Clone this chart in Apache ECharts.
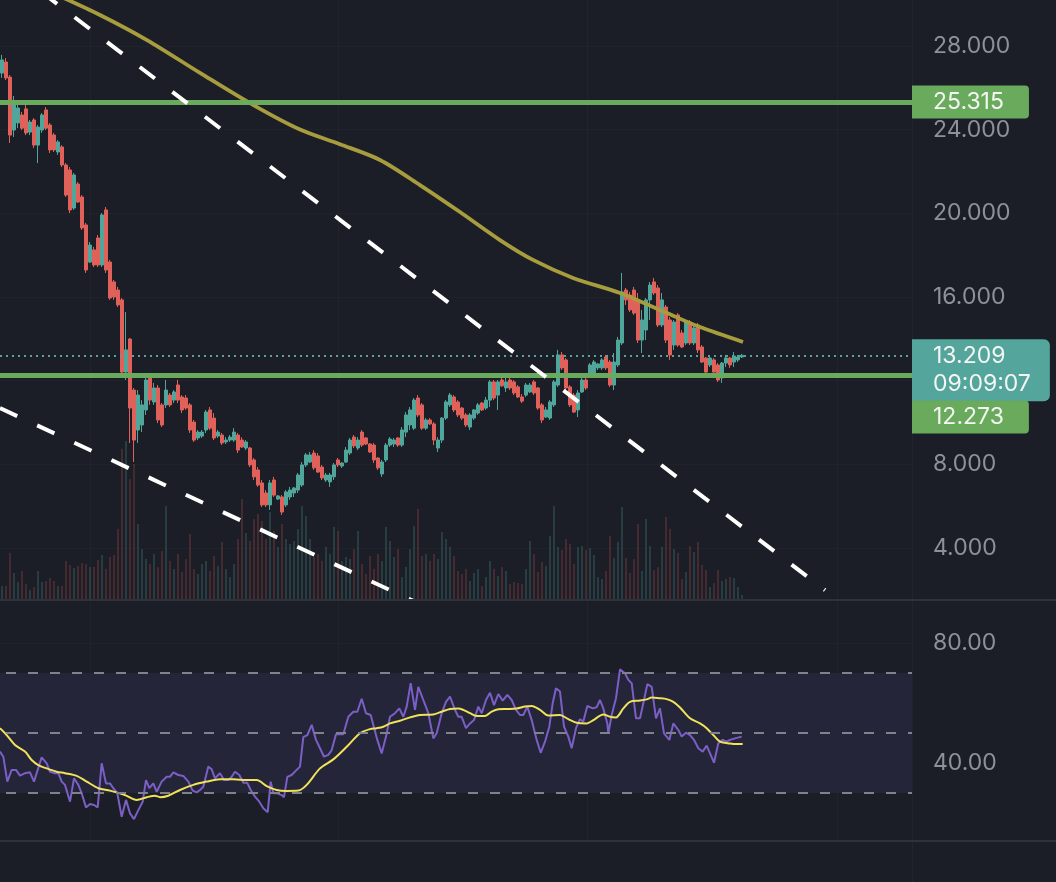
<!DOCTYPE html>
<html><head><meta charset="utf-8">
<script src="https://cdn.jsdelivr.net/npm/echarts@6/dist/echarts.min.js"></script>
<style>html,body{margin:0;padding:0;background:#1b1e26;overflow:hidden}#c{width:1056px;height:882px}</style>
</head><body><div id="c"></div>
<script>
// ---- data ----
const ohlc = [
[26.70,27.33,26.47,27.57],[27.23,26.47,26.37,27.42],[26.51,23.74,23.36,26.61],[23.98,25.18,23.65,25.61],[24.32,25.03,24.07,25.18],
[24.70,24.07,23.98,24.84],[24.99,23.84,23.74,25.18],[23.88,24.36,23.74,24.46],[24.46,23.26,23.12,24.55],[23.26,24.12,22.40,24.22],
[23.98,24.70,23.84,24.79],[24.94,24.07,23.98,25.08],[24.22,23.03,22.88,24.32],[23.74,23.03,22.93,23.84],[22.93,23.41,22.79,23.50],
[23.17,22.31,22.21,23.26],[22.31,20.87,20.78,22.40],[22.07,20.16,20.01,22.21],[20.25,21.83,20.16,21.93],[21.40,20.54,20.49,21.50],
[20.78,19.30,19.20,20.87],[19.44,17.29,17.15,19.54],[17.67,18.48,17.62,18.63],[18.25,17.53,17.43,18.39],[18.82,17.53,17.43,18.96],
[17.53,19.92,17.43,20.01],[20.16,17.29,17.15,20.30],[17.67,15.95,15.86,17.77],[16.72,16.00,15.86,16.81],[16.33,15.62,15.52,16.48],
[15.86,12.41,12.27,15.95],[12.41,13.47,12.03,15.28],[13.99,10.69,9.02,14.04],[11.55,9.16,8.11,11.65],[9.64,11.31,9.02,11.55],
[9.88,10.84,9.54,11.07],[10.60,12.03,10.36,12.37],[12.13,11.07,10.84,12.37],[10.98,11.65,10.84,11.89],[11.65,10.12,9.97,11.79],
[10.84,9.88,9.78,10.93],[10.84,11.55,10.69,12.03],[11.31,10.84,10.74,11.41],[11.07,11.46,10.93,11.55],[11.79,11.07,10.93,12.03],
[11.22,10.60,10.45,11.31],[11.17,10.69,10.60,11.31],[10.84,9.64,9.50,10.93],[10.02,9.16,9.07,10.12],[9.26,9.54,9.16,9.64],
[9.35,9.54,9.26,9.64],[9.64,10.50,9.50,10.60],[10.60,9.73,9.64,10.74],[10.21,9.26,9.16,10.45],[9.35,9.54,9.26,9.64],
[9.40,9.02,8.92,9.50],[9.07,9.16,8.97,9.30],[9.16,9.30,9.07,9.40],[9.16,9.54,9.07,9.73],[9.40,8.68,8.54,9.50],
[9.16,8.83,8.78,9.30],[8.78,9.07,8.68,9.16],[8.78,7.97,7.87,8.83],[8.21,7.40,7.25,8.30],[7.73,7.01,6.92,7.87],
[7.11,6.06,5.96,7.25],[6.63,6.06,5.96,6.77],[6.06,7.11,5.82,7.25],[7.25,6.53,6.44,7.40],[6.34,6.49,6.30,6.53],
[6.44,5.72,5.58,6.53],[6.06,6.68,5.96,6.77],[6.44,6.77,6.30,6.92],[6.63,6.87,6.44,6.92],[6.77,7.49,6.63,7.59],
[7.01,7.97,6.92,8.11],[7.97,8.45,7.87,8.54],[8.11,8.45,8.06,8.59],[8.54,7.83,7.73,8.68],[8.40,7.63,7.59,8.54],
[7.87,7.35,7.25,7.97],[7.25,7.49,7.16,7.59],[7.16,7.49,6.92,7.59],[7.40,7.97,7.25,8.06],[8.21,7.97,7.87,8.30],
[7.92,8.06,7.83,8.11],[8.11,8.68,8.06,8.83],[8.54,9.16,8.45,9.26],[9.30,8.88,8.78,9.40],[8.78,9.16,8.68,9.30],
[9.54,8.92,8.83,9.64],[9.26,8.97,8.92,9.30],[8.97,8.59,8.54,9.02],[8.92,8.21,8.06,9.02],[8.30,7.83,7.73,8.35],
[7.54,8.11,7.40,8.21],[8.21,8.92,8.11,9.02],[8.92,9.21,8.83,9.30],[8.97,9.16,8.83,9.26],[9.26,8.92,8.83,9.30],
[8.92,9.64,8.83,9.78],[9.54,10.36,9.30,10.50],[9.88,10.60,9.64,10.74],[9.73,11.07,9.64,11.17],[11.17,10.36,10.26,11.31],
[10.84,9.73,9.64,10.93],[9.73,10.12,9.64,10.21],[10.12,9.93,9.88,10.21],[9.93,9.16,8.92,10.02],[8.78,9.16,8.59,9.30],
[9.16,10.21,9.02,10.26],[10.21,10.98,10.12,11.07],[10.84,11.31,10.74,11.41],[11.22,10.60,10.50,11.31],[10.98,10.36,10.26,11.07],
[10.69,10.21,10.12,10.74],[10.36,9.88,9.78,10.45],[9.78,10.36,9.64,10.45],[10.21,10.60,10.12,10.64],[10.45,10.84,10.36,10.93],
[10.93,10.60,10.55,10.98],[10.69,11.07,10.60,11.22],[11.07,11.94,10.74,12.03],[11.94,11.17,11.07,12.03],[11.31,11.94,10.60,12.03],
[12.03,11.75,11.70,12.13],[11.65,11.94,11.46,12.13],[12.03,11.65,11.55,12.13],[11.94,11.41,11.31,12.03],[11.70,11.22,11.17,11.79],
[11.22,11.02,10.93,11.36],[11.31,11.79,11.22,11.89],[11.46,11.79,11.41,11.89],[11.94,11.41,11.31,12.03],[11.65,10.69,10.60,11.70],
[10.84,10.12,9.97,10.93],[10.26,10.60,10.21,10.74],[10.21,10.98,10.12,11.07],[10.84,11.94,10.74,12.03],[11.79,13.23,11.70,13.47],
[13.23,12.61,12.51,13.37],[12.99,11.65,11.55,13.08],[11.70,10.84,10.74,11.79],[11.31,10.50,10.45,11.41],[10.60,11.41,10.26,11.55],
[11.46,12.03,11.41,12.13],[12.03,11.65,11.55,12.13],[12.27,12.75,12.18,12.84],[12.37,12.89,12.27,12.99],[12.61,12.80,12.51,12.84],
[12.61,12.99,12.51,13.08],[13.13,12.61,12.51,13.23],[12.89,11.79,11.70,12.99],[11.79,12.89,11.55,13.32],[12.75,13.94,12.65,14.09],
[13.80,16.24,13.70,17.15],[16.33,15.86,15.62,16.43],[16.09,15.38,15.28,16.24],[16.33,15.23,15.14,16.48],[15.86,13.94,13.80,16.19],
[13.94,14.90,13.32,15.38],[14.42,15.86,13.94,15.95],[15.86,16.57,14.90,16.72],[16.72,16.19,16.09,16.91],[16.43,14.66,14.56,16.57],
[14.66,15.86,14.56,16.19],[15.52,13.94,13.80,15.62],[14.90,13.23,12.99,15.04],[13.70,14.80,13.47,14.90],[15.14,13.70,13.61,15.23],
[14.28,13.61,13.56,14.42],[13.80,14.80,13.70,14.90],[14.80,13.80,13.70,14.90],[13.80,14.52,13.70,14.66],[14.66,13.47,13.32,14.76],
[13.61,12.89,12.84,13.70],[13.08,12.41,12.37,13.13],[12.75,13.08,12.65,13.13],[12.99,12.41,12.37,13.08],[12.75,12.03,11.94,12.84],
[12.13,12.84,11.89,12.89],[12.84,13.08,12.65,13.23],[13.08,12.75,12.61,13.13],[12.89,13.18,12.65,13.37],[12.99,13.13,12.89,13.23],
[13.13,13.21,13.08,13.28]
];
const volume = [
13,13,46,26,17,28,15,9,12,28,17,18,21,18,13,13,38,34,31,33,36,35,32,32,39,44,30,42,44,70,150,158,120,135,75,50,
40,35,45,32,48,93,38,30,45,27,40,65,30,25,35,38,28,43,33,57,30,22,35,60,100,66,58,80,85,78,
60,87,68,52,75,60,55,58,70,93,83,60,42,45,38,52,45,72,68,38,42,40,50,68,35,25,43,30,45,38,
72,58,42,50,22,32,50,73,90,43,45,38,45,40,67,60,52,43,28,25,30,18,26,30,13,22,38,30,23,32,
28,15,17,16,15,30,58,45,27,37,33,63,93,52,
49,60,55,35,52,53,49,51,44,22,20,28,63,41,57,92,41,26,40,75,28,80,53,29,32,52,82,70,50,46,
20,27,53,47,57,34,29,12,16,29,18,20,22,21,12,4
];
// moving average of price: [bar position, price]
const maPts = [[13.25,30.48],[24.5,29.48],[36.25,28.28],[49.5,26.71],[62.75,25.18],[74.5,24.0],[84.5,23.3],[94.5,22.55],[104.5,21.35],[114.5,20.06],[124.5,18.72],[132.75,17.77],[142.75,16.91],[154.5,16.19],[166.25,15.23],[174.5,14.56],[185.25,13.85]];
// dashed trend lines: [bar position, price]
const trendUpper = [[10.0,30.56],[205.75,1.99]];
const trendLower = [[-0.5,10.69],[104.5,1.32]];
// RSI and its average: [bar position, value]
const rsiPts = [[-0.5,43.8],[0.33,42.1],[1.33,33.8],[2.42,37.7],[3.5,37.7],[4.5,35.8],[5.75,36.6],[7,36.9],[8,33.8],[9.92,41.9],[11.17,39.9],[12,37.1],[13.25,36.6],[14.08,36.6],[14.92,33.8],[15.75,32.7],[17,27.1],[18,34.9],[19.08,32.7],[19.92,29.9],[21,25.2],[22,26.3],[23,26.0],[23.92,25.2],[24.92,39.9],[26,33.2],[27,33.2],[27.83,31.6],[28.83,29.9],[29.92,22.1],[31,27.7],[32,23.2],[33,21.3],[34.08,24.3],[35.17,27.1],[36,34.3],[36.83,31.6],[37.83,33.2],[38.67,30.4],[39.92,33.8],[41.17,35.4],[42,35.4],[42.83,36.9],[44.08,36.0],[45.33,35.7],[46.58,33.8],[47.67,30.8],[48.67,30.2],[49.5,31.0],[50.33,32.1],[51.58,38.8],[52.42,37.9],[53.25,34.9],[54.5,36.6],[55.5,34.3],[56.58,34.3],[57.42,35.4],[58.25,37.1],[59.33,36.0],[60.33,33.4],[61.33,33.4],[62.17,31.0],[63.25,28.8],[64.33,27.1],[65.33,24.9],[66.42,23.6],[67.17,33.8],[67.83,29.9],[68.83,29.9],[69.92,29.3],[70.5,28.6],[71.33,35.4],[72.42,36.0],[73.67,37.7],[74.5,38.8],[75.33,48.6],[76.33,49.3],[77.42,52.7],[78.5,47.7],[79.5,44.9],[80.5,42.1],[81.58,42.7],[82.42,44.3],[83.5,49.6],[84.5,49.6],[85.33,49.6],[86.58,55.4],[87.83,57.1],[88.83,57.1],[89.92,61.4],[91,56.6],[92.17,56.0],[93.83,47.7],[94.92,43.2],[96,48.8],[97,55.4],[98.25,56.6],[99.33,58.2],[100.33,55.4],[101.17,58.8],[102.17,66.6],[103.25,57.7],[104.08,65.4],[105.33,61.0],[106.58,56.6],[107.83,48.2],[108.67,49.9],[109.92,56.6],[111,60.4],[112,62.1],[113.25,57.7],[114.08,55.4],[114.92,55.4],[116,51.6],[117,53.2],[118,54.3],[119.08,58.8],[119.92,56.6],[121,61.0],[122,63.4],[123,59.3],[124.08,63.0],[125.17,60.8],[126.33,62.7],[127.42,61.0],[128.5,57.7],[129.5,56.0],[130.33,56.0],[131.33,58.8],[132.42,54.3],[133.67,47.7],[134.67,43.4],[135.75,47.1],[136.83,52.1],[137.67,59.9],[138.5,64.9],[139.5,63.8],[140.5,52.1],[141.58,48.8],[142.42,44.9],[143.5,51.6],[144.5,54.6],[145.33,53.8],[146.33,59.0],[147.67,58.2],[148.67,58.6],[149.5,61.0],[150.33,58.2],[151.33,53.2],[151.58,49.9],[152.42,56.0],[153.5,61.6],[154.5,71.2],[155.75,69.9],[156.58,67.7],[157.42,66.6],[158.5,54.9],[159.5,54.9],[160.5,61.0],[161.33,66.3],[162.42,65.4],[163.5,54.9],[164.5,58.2],[165.5,49.9],[166.83,47.7],[167.83,53.2],[169.08,51.0],[169.92,48.8],[171,50.1],[172,49.3],[173,47.7],[174.08,44.9],[175.17,43.8],[176.17,45.8],[177,43.2],[178,40.1],[179.08,46.6],[180.17,47.7],[181.17,47.1],[182,47.7],[183.25,48.2],[184.92,48.8]];
const rsiMaPts = [[-0.5,51.6],[1.17,49.3],[3.25,46.0],[5.75,43.8],[7.42,41.0],[9.08,39.3],[11.17,38.2],[13.67,37.1],[15.75,36.6],[18.67,35.7],[21.17,33.8],[24.08,31.6],[27,30.8],[30.75,29.3],[33.67,27.7],[36.17,28.6],[38.25,29.1],[39.5,28.6],[41.58,29.1],[44.5,31.0],[47.83,32.7],[51.17,33.8],[54.5,34.6],[57.83,34.6],[61.17,34.3],[63.67,34.3],[66.17,32.3],[68.67,31.0],[71.17,30.7],[74.08,30.8],[76.17,32.7],[79.5,38.2],[82.83,41.2],[86.17,45.4],[89.5,49.9],[92,51.3],[93.67,51.6],[95.33,52.1],[97,53.2],[99.5,54.1],[102,55.2],[104.5,56.0],[107.83,56.2],[109.92,57.1],[112,58.0],[114.08,58.2],[115.33,57.7],[117,56.6],[118.67,55.7],[120.75,55.7],[122.42,57.1],[124.08,57.9],[126.17,58.0],[128.67,58.2],[130.75,58.8],[132.42,59.0],[134.5,57.7],[136.58,55.8],[139.5,56.0],[141.58,54.6],[143.67,53.4],[146.17,53.2],[147.83,54.3],[150.33,56.2],[152,55.4],[153.5,55.2],[155.33,58.2],[157,60.4],[159.5,60.8],[161.17,61.2],[162.42,61.8],[164.5,61.6],[166.17,61.3],[167.83,60.4],[169.5,58.5],[172,54.9],[174.5,53.2],[176.17,51.6],[177.83,49.3],[179.5,47.1],[182,46.5],[183.67,46.3],[185.17,46.3]];
const priceTicks = [4, 8, 12, 16, 20, 24, 28];
const rsiTicks = [40, 80];
const rsiLevels = [70, 50, 30];
const resistance = 25.315;
const support = 12.273;
const lastPrice = 13.209;
const countdown = '09:09:07';
const slotCount = 228;
const timeGridLines = [22, 84, 146.25, 208.75];

// ---- chart ----
const UP = '#50a69b', DOWN = '#e0615a';
const FONT = 'Inter, Roboto, sans-serif';
const FS = 23;
const cats = Array.from({length: slotCount}, (_, i) => String(i));
const PW = 912;
const splitX = {show: true, lineStyle: {color: '#21242c', width: 1}};
function valueX(gridIndex) {
  return {type: 'value', gridIndex, min: -0.5, max: slotCount - 0.5,
    axisLine: {show: false}, axisTick: {show: false, customValues: timeGridLines},
    axisLabel: {show: false}, splitLine: splitX};
}
const chart = echarts.init(document.getElementById('c'));
chart.setOption({
  backgroundColor: '#1b1e26',
  animation: false,
  grid: [
    {left: 0, top: 0, width: PW, height: 599},
    {left: 0, top: 439, width: PW, height: 160},
    {left: 0, top: 601, width: PW, height: 240}
  ],
  xAxis: [
    {type: 'category', gridIndex: 0, data: cats, show: false},
    valueX(0),
    {type: 'category', gridIndex: 1, data: cats, show: false},
    valueX(2)
  ],
  yAxis: [
    {type: 'value', gridIndex: 0, position: 'right', min: 1.562, max: 30.195,
      axisLine: {show: false}, axisTick: {show: false, customValues: priceTicks},
      axisLabel: {customValues: priceTicks, formatter: v => v.toFixed(3), color: '#8d919a', fontSize: FS, fontFamily: FONT, margin: 21},
      splitLine: {show: true, lineStyle: {color: '#1f222a', width: 1}}},
    {type: 'value', gridIndex: 1, min: 0, max: 160, show: false},
    {type: 'value', gridIndex: 2, position: 'right', min: 14, max: 94,
      axisLine: {show: false}, axisTick: {show: false, customValues: rsiTicks},
      axisLabel: {customValues: rsiTicks, formatter: v => v.toFixed(2), color: '#8d919a', fontSize: FS, fontFamily: FONT, margin: 21},
      splitLine: {show: true, lineStyle: {color: '#1f222a', width: 1}}}
  ],
  graphic: [
    {type: 'line', shape: {x1: 0, y1: 600, x2: 1056, y2: 600}, style: {stroke: '#2f323a', lineWidth: 2}, z: 10},
    {type: 'line', shape: {x1: 0, y1: 841, x2: 1056, y2: 841}, style: {stroke: '#2f323a', lineWidth: 2}, z: 10},
    {type: 'line', shape: {x1: 912.5, y1: 0, x2: 912.5, y2: 882}, style: {stroke: '#22252d', lineWidth: 1}, z: 0}
  ],
  series: [
    {type: 'bar', xAxisIndex: 2, yAxisIndex: 1, barWidth: 1.6, z: 1, silent: true,
      data: volume.map((v, i) => ({value: v, itemStyle: {color: ohlc[i][1] >= ohlc[i][0] ? 'rgba(80,166,155,0.30)' : 'rgba(224,97,90,0.27)'}}))},
    {type: 'candlestick', xAxisIndex: 0, yAxisIndex: 0, barWidth: 3, z: 2,
      data: ohlc,
      itemStyle: {color: UP, color0: DOWN, borderColor: UP, borderColor0: DOWN, borderWidth: 1}},
    {type: 'line', xAxisIndex: 1, yAxisIndex: 0, data: [], z: 3, silent: true,
      markLine: {symbol: 'none', silent: true, animation: false,
        data: [
          {yAxis: lastPrice, lineStyle: {color: '#50a69b', width: 2, type: [2, 4]},
            label: {show: true, position: 'end', distance: 0, offset: [0, 15], formatter: lastPrice.toFixed(3) + '\n' + countdown,
              color: '#f3f6f4', fontSize: FS, fontFamily: FONT, lineHeight: 28, backgroundColor: '#54a59b', padding: [2, 19, 4, 21], borderRadius: [0, 6, 6, 0]}},
          {yAxis: resistance, lineStyle: {color: '#6aaa5c', width: 5, type: 'solid'},
            label: {show: true, position: 'end', distance: 0, formatter: resistance.toFixed(3),
              color: '#f3f6f2', fontSize: FS, fontFamily: FONT, lineHeight: 26, backgroundColor: '#6aaa5c', padding: [4, 25, 3, 21], borderRadius: [0, 4, 4, 0]}},
          {yAxis: support, lineStyle: {color: '#6aaa5c', width: 5, type: 'solid'},
            label: {show: true, position: 'end', distance: 0, offset: [0, 42], formatter: support.toFixed(3),
              color: '#f3f6f2', fontSize: FS, fontFamily: FONT, lineHeight: 26, backgroundColor: '#6aaa5c', padding: [4, 25, 3, 21], borderRadius: [0, 4, 4, 0]}}
        ]}},
    {type: 'line', xAxisIndex: 1, yAxisIndex: 0, data: maPts, smooth: 0.3, showSymbol: false, z: 4, silent: true,
      lineStyle: {color: '#a89d3e', width: 3.8}},
    {type: 'line', xAxisIndex: 1, yAxisIndex: 0, data: trendUpper, showSymbol: false, z: 5, silent: true,
      lineStyle: {color: '#ffffff', width: 4, type: [19, 22], cap: 'butt'}},
    {type: 'line', xAxisIndex: 1, yAxisIndex: 0, data: trendLower, showSymbol: false, z: 5, silent: true,
      lineStyle: {color: '#ffffff', width: 4, type: [19, 22], cap: 'butt'}},
    {type: 'line', xAxisIndex: 3, yAxisIndex: 2, data: [], z: 1, silent: true,
      markArea: {silent: true, itemStyle: {color: '#242539'}, data: [[{yAxis: rsiLevels[0]}, {yAxis: rsiLevels[2]}]]},
      markLine: {symbol: 'none', silent: true, label: {show: false},
        lineStyle: {color: '#7f828b', width: 2, type: [10, 12], dashOffset: 16},
        data: rsiLevels.map(v => ({yAxis: v}))}},
    {type: 'line', xAxisIndex: 3, yAxisIndex: 2, data: rsiPts, showSymbol: false, z: 3, silent: true,
      lineStyle: {color: '#7b5fc6', width: 2}},
    {type: 'line', xAxisIndex: 3, yAxisIndex: 2, data: rsiMaPts, smooth: 0.3, showSymbol: false, z: 4, silent: true,
      lineStyle: {color: '#f1e25a', width: 2}}
  ]
});
</script>
</body></html>
